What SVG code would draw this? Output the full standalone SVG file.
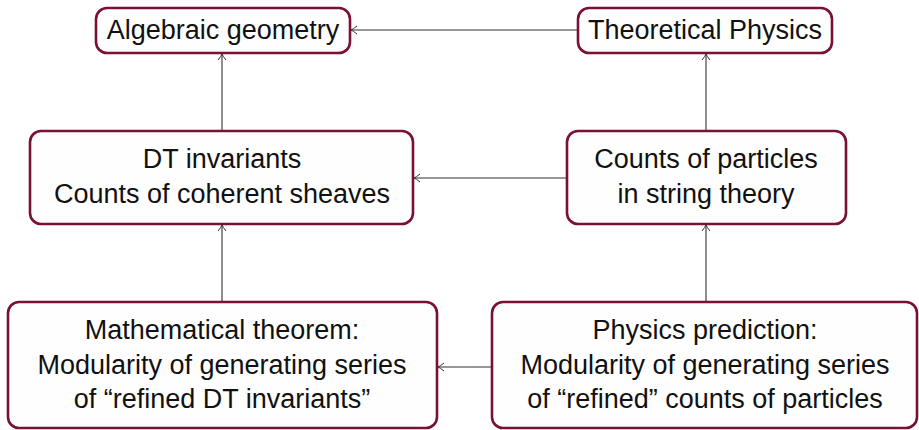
<svg xmlns="http://www.w3.org/2000/svg" width="919" height="430" viewBox="0 0 919 430">
<defs>
<marker id="arr" markerWidth="12" markerHeight="12" refX="9" refY="6" orient="auto" markerUnits="userSpaceOnUse">
<path d="M3,2 Q7,5.2 9,6 Q7,6.8 3,10" fill="none" stroke="#333" stroke-width="1"/>
</marker>
<style>
.box{fill:#fefefe;stroke:#7a1034;stroke-width:2.6}
.t{font-family:"Liberation Sans",Arial,sans-serif;font-size:27px;fill:#111;text-anchor:middle}
.c{stroke:#333;stroke-width:1.1;fill:none;marker-end:url(#arr)}
</style>
</defs>
<rect width="919" height="430" fill="#ffffff"/>
<g id="connectors">
<line class="c" x1="578" y1="30" x2="351" y2="30"/>
<line class="c" x1="222" y1="131" x2="222" y2="54"/>
<line class="c" x1="706" y1="131" x2="706" y2="54"/>
<line class="c" x1="567" y1="178" x2="414" y2="178"/>
<line class="c" x1="222" y1="302" x2="222" y2="225"/>
<line class="c" x1="706" y1="302" x2="706" y2="225"/>
<line class="c" x1="492" y1="367" x2="438" y2="367"/>
</g>
<g id="algebraic">
<rect class="box" x="96" y="8" width="254" height="45" rx="11"/>
<text class="t" x="223" y="39">Algebraic geometry</text>
</g>
<g id="physics">
<rect class="box" x="578" y="8" width="254" height="45" rx="11"/>
<text class="t" x="705" y="39">Theoretical Physics</text>
</g>
<g id="dt">
<rect class="box" x="30" y="131" width="383" height="93" rx="11"/>
<text class="t" x="222" y="168">DT invariants</text>
<text class="t" x="222" y="203">Counts of coherent sheaves</text>
</g>
<g id="counts">
<rect class="box" x="567" y="131" width="279" height="93" rx="11"/>
<text class="t" x="706" y="168">Counts of particles</text>
<text class="t" x="706" y="203">in string theory</text>
</g>
<g id="theorem">
<rect class="box" x="8" y="302" width="429" height="126" rx="11"/>
<text class="t" x="222" y="339">Mathematical theorem:</text>
<text class="t" x="222" y="374">Modularity of generating series</text>
<text class="t" x="222" y="408">of “refined DT invariants”</text>
</g>
<g id="prediction">
<rect class="box" x="492" y="302" width="425" height="126" rx="11"/>
<text class="t" x="705" y="339">Physics prediction:</text>
<text class="t" x="705" y="374">Modularity of generating series</text>
<text class="t" x="705" y="408">of “refined” counts of particles</text>
</g>
</svg>
